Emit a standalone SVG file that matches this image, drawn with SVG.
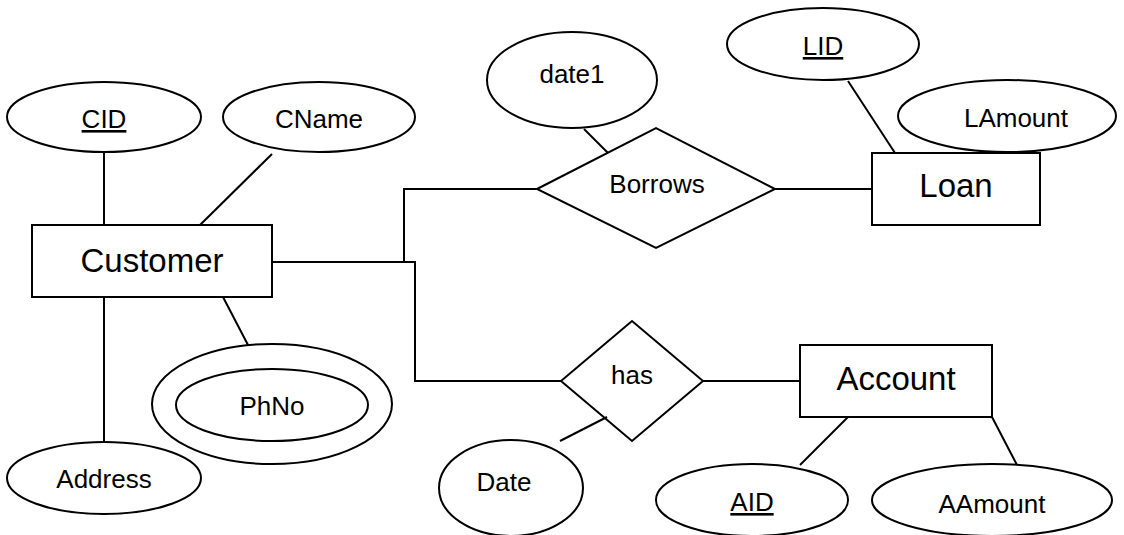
<svg xmlns="http://www.w3.org/2000/svg" width="1124" height="535" viewBox="0 0 1124 535">
<style>
.s{fill:#fff;stroke:#000;stroke-width:2}
.c{fill:none;stroke:#000;stroke-width:2}
.t{font-family:"Liberation Sans",Arial,sans-serif;font-size:26px;fill:#000;text-anchor:middle}
.b{font-family:"Liberation Sans",Arial,sans-serif;font-size:33px;fill:#000;text-anchor:middle}
.u{text-decoration:underline}
</style>
<rect width="1124" height="535" fill="#fff"/>
<g id="CID"><ellipse class="s" cx="104" cy="117" rx="97" ry="35"/><text class="t u" x="104" y="128">CID</text></g>
<g id="CName"><ellipse class="s" cx="319" cy="117" rx="96" ry="35"/><text class="t" x="319" y="128">CName</text></g>
<g id="Customer"><rect class="s" x="32" y="225" width="240" height="72"/><text class="b" x="152" y="272">Customer</text></g>
<g id="Address"><ellipse class="s" cx="104" cy="478" rx="97" ry="36"/><text class="t" x="104" y="488">Address</text></g>
<g id="PhNo"><ellipse class="s" cx="272" cy="404" rx="120" ry="60"/><ellipse class="s" cx="272" cy="405" rx="96" ry="36"/><text class="t" x="272" y="415">PhNo</text></g>
<g id="date1"><ellipse class="s" cx="572" cy="80" rx="85" ry="48"/><text class="t" x="572" y="83">date1</text></g>
<g id="Borrows"><polygon class="s" points="537,189 656,128 775,189 656,248"/><text class="t" x="657" y="193">Borrows</text></g>
<g id="LID"><ellipse class="s" cx="823" cy="44" rx="96" ry="36"/><text class="t u" x="823" y="55">LID</text></g>
<g id="LAmount"><ellipse class="s" cx="1007" cy="116" rx="109" ry="36"/><text class="t" x="1016" y="127">LAmount</text></g>
<g id="Loan"><rect class="s" x="872" y="153" width="168" height="72"/><text class="b" x="956" y="197">Loan</text></g>
<g id="has"><polygon class="s" points="561,381 632,321 703,381 632,441"/><text class="t" x="632" y="384">has</text></g>
<g id="Date"><ellipse class="s" cx="511" cy="488" rx="72" ry="48"/><text class="t" x="504" y="491">Date</text></g>
<g id="Account"><rect class="s" x="800" y="345" width="192" height="72"/><text class="b" x="896" y="390">Account</text></g>
<g id="AID"><ellipse class="s" cx="752" cy="500" rx="96" ry="36"/><text class="t u" x="752" y="511">AID</text></g>
<g id="AAmount"><ellipse class="s" cx="992" cy="500" rx="120" ry="36"/><text class="t" x="992" y="513">AAmount</text></g>
<g id="connectors">
<line class="c" x1="104" y1="152" x2="104" y2="225"/>
<line class="c" x1="272" y1="154" x2="200" y2="225"/>
<polyline class="c" points="272,262 415,262 415,381 561,381"/>
<polyline class="c" points="404,262 404,189 537,189"/>
<line class="c" x1="584" y1="129" x2="608" y2="153"/>
<line class="c" x1="775" y1="189" x2="872" y2="189"/>
<line class="c" x1="848" y1="81" x2="895" y2="153"/>
<line class="c" x1="104" y1="297" x2="104" y2="442"/>
<line class="c" x1="223" y1="297" x2="248" y2="345"/>
<line class="c" x1="703" y1="381" x2="800" y2="381"/>
<line class="c" x1="560" y1="441" x2="607" y2="417"/>
<line class="c" x1="800" y1="465" x2="848" y2="417"/>
<line class="c" x1="992" y1="417" x2="1017" y2="465"/>
</g>
</svg>
